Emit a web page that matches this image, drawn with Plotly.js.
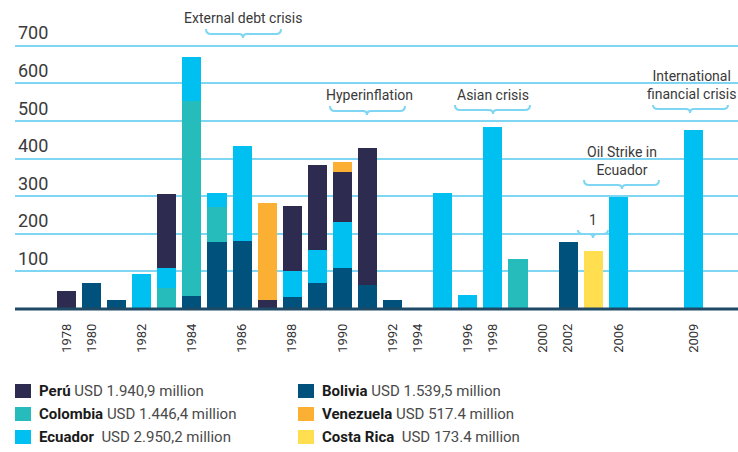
<!DOCTYPE html>
<html>
<head>
<meta charset="utf-8">
<script src="https://cdn.plot.ly/plotly-3.0.1.min.js"></script>
<style>
  html, body { margin: 0; padding: 0; background: #ffffff; }
  #chart { width: 738px; height: 452px; }
</style>
</head>
<body>
<div id="chart"></div>
<script>
// ---- Data ----
const categories = ["1978","1980","1981","1982","1983","1984","1985","1986","1987","1988",
                    "1989","1990","1991","1992","1994","1995","1996","1998","1999","2000",
                    "2002","2004","2006","2007","2008","2009"];
const tickLabels = ["1978","1980","1982","1984","1986","1988","1990","1992","1994",
                    "1996","1998","2000","2002","2006","2009"];

const bolivia   = [null,69,25,null,null,35,179,182,null,32,70,108,63,23,null,null,null,null,null,null,179,null,null,null,null,null];
const colombia  = [null,null,null,null,55,518,92,null,null,null,null,null,null,null,null,null,null,null,134,null,null,null,null,null,null,null];
const ecuador   = [null,null,null,94,54,118,37,250,null,70,86,124,null,null,null,307,37,485,null,null,null,null,299,null,null,477];
const peru      = [48,null,null,null,196,null,null,null,23,171,227,131,366,null,null,null,null,null,null,null,null,null,null,null,null,null];
const venezuela = [null,null,null,null,null,null,null,null,260,null,null,27,null,null,null,null,null,null,null,null,null,null,null,null,null,null];
const costaRica = [null,null,null,null,null,null,null,null,null,null,null,null,null,null,null,null,null,null,null,null,null,154,null,null,null,null];

const yTicks = [100,200,300,400,500,600,700];

const legendNames  = ["Perú","Colombia","Ecuador","Bolivia","Venezuela","Costa Rica"];
const legendTotals = ["USD 1.940,9 million","USD 1.446,4 million","USD 2.950,2 million",
                      "USD 1.539,5 million","USD 517.4 million","USD 173.4 million"];

const crisisLabels = ["External debt crisis","Hyperinflation","Asian crisis",
                      "International<br>financial crisis","Oil Strike in<br>Ecuador","1"];

// ---- Styling ----
const colors = {
  "Perú": "#2e2b50", "Colombia": "#27bcbc", "Ecuador": "#00c0f2",
  "Bolivia": "#00527c", "Venezuela": "#fbb034", "Costa Rica": "#ffde50"
};
const FONT = "Roboto, 'Open Sans', sans-serif";

const xIdx = categories.map((c, i) => i);
const tickVals = tickLabels.map(l => categories.indexOf(l));

// stacking order bottom -> top
const series = [
  ["Bolivia", bolivia], ["Colombia", colombia], ["Ecuador", ecuador],
  ["Perú", peru], ["Venezuela", venezuela], ["Costa Rica", costaRica]
];
const traces = series.map(([name, vals]) => ({
  type: "bar", name: name, x: xIdx, y: vals, width: 0.76,
  marker: { color: colors[name], line: { width: 0 } },
  showlegend: false, hoverinfo: "x+y+name"
}));

// pixel -> paper helpers (plot area: x 15..738, y 8..312)
const L = 15, W = 723, T = 8, H = 304;
const px = v => (v - L) / W;
const py = v => (T + H - v) / H;

function brace(x0, x1, xm, y0, ym, yt) {
  const r = 5;
  const P = (x, y) => px(x).toFixed(5) + "," + py(y).toFixed(5);
  return {
    type: "path", xref: "paper", yref: "paper",
    path: "M" + P(x0, y0) + " Q" + P(x0, ym) + " " + P(x0 + r, ym) +
          " L" + P(xm - 4, ym) + " Q" + P(xm, ym) + " " + P(xm, yt) +
          " Q" + P(xm, ym) + " " + P(xm + 4, ym) +
          " L" + P(x1 - r, ym) + " Q" + P(x1, ym) + " " + P(x1, y0),
    line: { color: "#7fd6f2", width: 2 }
  };
}

const braces = [
  [206, 281, 243, 29, 34, 38],
  [330, 405, 367, 106, 111, 115],
  [455, 530, 493, 105, 110, 114],
  [653, 728, 690, 105, 109, 113],
  [584, 659, 622, 180, 185, 189],
  [578, 608, 593, 230, 234, 238]
];
const crisisPos = [[243, 18.5], [369, 95.5], [492.5, 95], [691, 84.5], [622, 161], [593, 220]];

const shapes = braces.map(b => brace(...b));
// baseline
shapes.push({ type: "line", xref: "paper", yref: "y", x0: 0, x1: 1, y0: 0, y1: 0,
              line: { color: "#1f4a66", width: 3 } });

const annotations = crisisLabels.map((t, i) => ({
  text: t, xref: "paper", yref: "paper", x: px(crisisPos[i][0]), y: py(crisisPos[i][1]),
  xanchor: "center", yanchor: "middle", showarrow: false, align: "center",
  font: { family: FONT, size: 14, color: "#3a3a3a" }
}));

// custom legend (two columns)
const legendOrder = [[0, 15, 391], [1, 15, 414], [2, 15, 437], [3, 298, 391], [4, 298, 414], [5, 298, 437]];
legendOrder.forEach(([i, sx, sy]) => {
  const nm = legendNames[i];
  shapes.push({ type: "rect", xref: "paper", yref: "paper",
    x0: px(sx), x1: px(sx + 16), y0: py(sy - 7), y1: py(sy + 7),
    fillcolor: colors[nm], line: { width: 0 } });
  const gap = (nm === "Ecuador" || nm === "Costa Rica") ? "&nbsp; " : " ";
  annotations.push({
    text: "<b>" + nm + "</b><span style='color:#4a4a4a'>" + gap + legendTotals[i] + "</span>",
    xref: "paper", yref: "paper", x: px(sx + 22), y: py(sy), xanchor: "left", yanchor: "middle",
    showarrow: false, font: { family: FONT, size: 15, color: "#1a1a1a" }
  });
});

const layout = {
  width: 738, height: 452,
  margin: { l: L, r: 0, t: T, b: 452 - T - H, pad: 0 },
  paper_bgcolor: "#ffffff", plot_bgcolor: "#ffffff",
  barmode: "stack", showlegend: false,
  xaxis: {
    range: [-2.053, 26.77], tickmode: "array", tickvals: tickVals, ticktext: tickLabels,
    tickangle: -90, ticks: "", showgrid: false, zeroline: false, showline: false,
    ticklabelstandoff: 8,
    tickfont: { family: FONT, size: 13, color: "#333333" }, fixedrange: true
  },
  yaxis: {
    range: [-8, 800], tickmode: "array", tickvals: yTicks,
    ticklabelposition: "inside top", ticks: "",
    showgrid: true, gridcolor: "#7fd6f2", gridwidth: 2,
    zeroline: false, showline: false,
    tickfont: { family: FONT, size: 18, color: "#3a3a3a" }, fixedrange: true
  },
  shapes: shapes,
  annotations: annotations
};

Plotly.newPlot("chart", traces, layout, { displayModeBar: false, staticPlot: true });
</script>
</body>
</html>
